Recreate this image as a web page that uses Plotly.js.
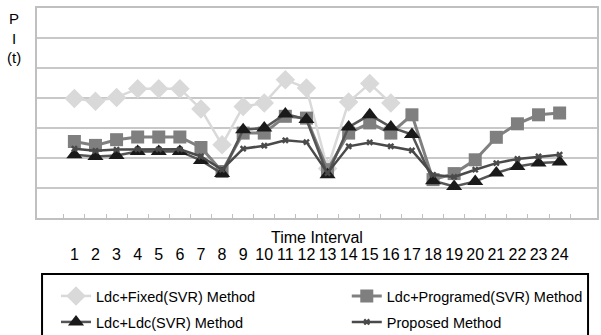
<!DOCTYPE html>
<html>
<head>
<meta charset="utf-8">
<script src="https://cdn.plot.ly/plotly-3.0.1.min.js"></script>
<style>html,body{margin:0;padding:0;background:#fff;}#chart{width:601px;height:335px;}</style>
</head>
<body>
<div id="chart"></div>
<script>
var intervals = ["1","2","3","4","5","6","7","8","9","10","11","12","13","14","15","16","17","18","19","20","21","22","23","24"];
var fixedSVR = [3.98,3.89,4.02,4.31,4.31,4.31,3.63,2.44,3.72,3.83,4.61,4.33,1.65,3.87,4.48,3.83,null,null,null,null,null,null,null,null];
var programedSVR = [2.55,2.42,2.61,2.70,2.70,2.70,2.35,1.55,2.83,2.83,3.39,3.33,1.61,2.83,3.17,2.83,3.44,1.28,1.48,1.94,2.69,3.14,3.44,3.50];
var ldcSVR = [2.11,2.05,2.08,2.22,2.22,2.22,1.92,1.48,2.94,3.00,3.47,3.28,1.44,3.03,3.44,3.03,2.78,1.24,1.05,1.22,1.50,1.72,1.83,1.87];
var proposed = [2.31,2.24,2.28,2.29,2.29,2.29,2.05,1.61,2.31,2.41,2.59,2.53,1.50,2.39,2.52,2.39,2.25,1.44,1.37,1.61,1.83,1.97,2.05,2.11];
var names = ["Ldc+Fixed(SVR) Method","Ldc+Programed(SVR) Method","Ldc+Ldc(SVR) Method","Proposed Method"];

var traces = [
  {x: intervals, y: fixedSVR, name: names[0], type: "scatter", mode: "lines+markers",
   line: {color: "#d9d9d9", width: 2.5}, marker: {symbol: "diamond", size: 15, color: "#d9d9d9"}, legend: "legend"},
  {x: intervals, y: programedSVR, name: names[1], type: "scatter", mode: "lines+markers",
   line: {color: "#808080", width: 3}, marker: {symbol: "square", size: 13, color: "#7f7f7f"}, legend: "legend2"},
  {x: intervals, y: ldcSVR, name: names[2], type: "scatter", mode: "lines+markers",
   line: {color: "#555555", width: 2.5}, marker: {symbol: "triangle-up", size: 14, color: "#1a1a1a"}, legend: "legend3"},
  {x: intervals, y: proposed, name: names[3], type: "scatter", mode: "lines+markers",
   line: {color: "#4a4a4a", width: 2.5}, marker: {symbol: "x", size: 6, color: "#4a4a4a"}, legend: "legend4"}
];

var legendFont = {family: "Liberation Sans, Arial, sans-serif", size: 14.5, color: "#000"};
function leg(x, y) {
  return {orientation: "h", xref: "container", yref: "container", x: x, xanchor: "left", y: y, yanchor: "middle",
          font: legendFont, bgcolor: "rgba(0,0,0,0)", borderwidth: 0};
}
var layout = {
  width: 601, height: 335,
  margin: {l: 37, r: 4, t: 8, b: 117},
  paper_bgcolor: "#ffffff", plot_bgcolor: "#ffffff",
  showlegend: true,
  xaxis: {
    type: "category", showgrid: false,
    showline: true, linecolor: "#c0c0c0", linewidth: 2, mirror: true,
    ticks: "inside", tickson: "boundaries", ticklen: 4, tickcolor: "#c0c0c0",
    tickfont: {family: "Liberation Sans, Arial, sans-serif", size: 16, color: "#000"},
    ticklabelstandoff: 21,
    tickangle: 0
  },
  yaxis: {
    range: [0, 7], dtick: 1, showticklabels: false,
    showgrid: true, gridcolor: "#c8c8c8", gridwidth: 2, zeroline: false,
    showline: true, linecolor: "#c0c0c0", linewidth: 2, mirror: true, ticks: ""
  },
  legend: leg(0.0932, 0.1164),
  legend2: leg(0.577, 0.1164),
  legend3: leg(0.0932, 0.0388),
  legend4: leg(0.577, 0.0388),
  shapes: [
    {type: "rect", xref: "paper", yref: "paper", x0: 0.009, x1: 0.984, y0: -0.6, y1: -0.267,
     line: {color: "#000", width: 2}}
  ],
  annotations: [
    {text: "Time Interval", xref: "paper", yref: "paper", x: 0.5, y: -0.093, xanchor: "center", yanchor: "middle",
     showarrow: false, font: {family: "Liberation Sans, Arial, sans-serif", size: 16, color: "#000"}},
    {text: "P<br>I<br>(t)", xref: "paper", yref: "paper", x: -0.041, y: 1.0, xanchor: "center", yanchor: "top",
     showarrow: false, align: "center", font: {family: "Liberation Sans, Arial, sans-serif", size: 15, color: "#000"}}
  ]
};
Plotly.newPlot("chart", traces, layout, {displayModeBar: false, staticPlot: true});
</script>
</body>
</html>
